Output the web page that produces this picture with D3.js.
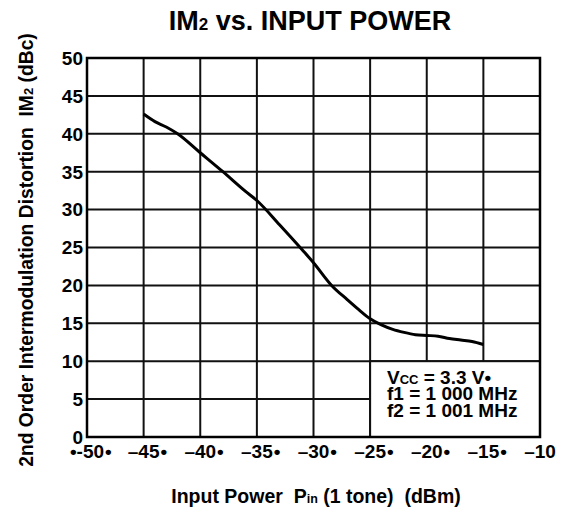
<!DOCTYPE html>
<html>
<head>
<meta charset="utf-8">
<script src="https://cdn.jsdelivr.net/npm/d3@7"></script>
<style>
  html, body { margin: 0; padding: 0; background: #fff; }
  svg text { font-family: "Liberation Sans", Arial, sans-serif; font-weight: bold; fill: #000; white-space: pre; }
</style>
</head>
<body>
<svg id="chart" width="569" height="513"></svg>
<script>
// Input power (dBm) and measured IM2 (dBc)
const inputPower = [-45, -44, -43, -42, -40, -38, -36, -35, -33, -31, -30, -28.4, -27, -26, -25, -24, -23, -22, -21, -20, -19, -18, -17, -16, -15];
const im2 = [42.6, 41.6, 40.9, 40.0, 37.5, 35.0, 32.4, 31.2, 28.0, 24.7, 23.0, 20.0, 18.1, 16.8, 15.6, 14.8, 14.2, 13.8, 13.5, 13.4, 13.3, 13.0, 12.8, 12.6, 12.2];

const xTicks = [-50, -45, -40, -35, -30, -25, -20, -15, -10];
const xTickLabels = ["\u2022-50", "\u201345", "\u201340", "\u201335", "\u201330", "\u201325", "\u201320", "\u201315", "\u201310"];
const xTickMarks = ["\u2022", "\u2022", "\u2022", "\u2022", "\u2022", "\u2022", "\u2022", "\u2022", ""];
const yTicks = [0, 5, 10, 15, 20, 25, 30, 35, 40, 45, 50];
const conditions = [
  { main: "V", sub: "CC", rest: " = 3.3 V\u2022" },
  { main: "f1 = 1 000 MHz", sub: "", rest: "" },
  { main: "f2 = 1 001 MHz", sub: "", rest: "" }
];

const svg = d3.select("#chart");
const plotLeft = 87, plotRight = 540, plotTop = 58, plotBottom = 437;

const x = d3.scaleLinear().domain([-50, -10]).range([plotLeft, plotRight]);
const y = d3.scaleLinear().domain([0, 50]).range([plotBottom, plotTop]);

// grid
const grid = svg.append("g").attr("stroke", "#111").attr("stroke-width", 2);
grid.selectAll("line.v").data(xTicks.slice(1, -1)).join("line")
  .attr("x1", d => x(d)).attr("x2", d => x(d)).attr("y1", plotTop).attr("y2", plotBottom);
grid.selectAll("line.h").data(yTicks.slice(1, -1)).join("line")
  .attr("y1", d => y(d)).attr("y2", d => y(d)).attr("x1", plotLeft).attr("x2", plotRight);

// curve
const line = d3.line().x((d, i) => x(inputPower[i])).y(d => y(d)).curve(d3.curveMonotoneX);
svg.append("path").datum(im2).attr("d", line)
  .attr("fill", "none").attr("stroke", "#000").attr("stroke-width", 3)
  .attr("stroke-linejoin", "round").attr("stroke-linecap", "butt");

// conditions box
svg.append("rect")
  .attr("x", x(-25)).attr("y", y(10))
  .attr("width", x(-10) - x(-25)).attr("height", y(0) - y(10))
  .attr("fill", "#fff").attr("stroke", "#111").attr("stroke-width", 2);

const cond = svg.append("g");
conditions.forEach((c, i) => {
  const t = cond.append("text").attr("x", 387).attr("y", 384 + i * 16.3).attr("font-size", 19);
  t.append("tspan").text(c.main);
  if (c.sub) t.append("tspan").attr("font-size", 13).text(c.sub);
  if (c.rest) t.append("tspan").text(c.rest);
});

// frame
svg.append("rect").attr("x", plotLeft).attr("y", plotTop)
  .attr("width", plotRight - plotLeft).attr("height", plotBottom - plotTop)
  .attr("fill", "none").attr("stroke", "#000").attr("stroke-width", 2.5);

// y tick labels
svg.append("g").selectAll("text").data(yTicks).join("text")
  .attr("x", plotLeft - 4).attr("y", d => y(d)).attr("dy", "0.36em")
  .attr("text-anchor", "end").attr("font-size", 19).text(d => d);

// x tick labels: number centred on its gridline, trailing dot after it
const xLab = svg.append("g");
xTicks.forEach((d, i) => {
  const t = xLab.append("text").attr("x", x(d)).attr("y", 458)
    .attr("text-anchor", "middle").attr("font-size", 19).text(xTickLabels[i]);
  const w = t.node().getComputedTextLength();
  if (xTickMarks[i]) {
    xLab.append("text").attr("x", x(d) + w / 2 + 1).attr("y", 458)
      .attr("font-size", 19).text(xTickMarks[i]);
  }
});

// title
const title = svg.append("text").attr("x", 310).attr("y", 30).attr("text-anchor", "middle").attr("font-size", 27);
title.append("tspan").text("IM");
title.append("tspan").attr("font-size", 17).text("2");
title.append("tspan").text(" vs. INPUT POWER");

// x axis title
const xt = svg.append("text").attr("x", 316).attr("y", 503).attr("text-anchor", "middle").attr("font-size", 19.5);
xt.append("tspan").text("Input Power  P");
xt.append("tspan").attr("font-size", 12.5).text("in");
xt.append("tspan").text(" (1 tone)  (dBm)");

// y axis title
const yt = svg.append("text").attr("transform", "translate(33,250) rotate(-90)")
  .attr("text-anchor", "middle").attr("font-size", 19.3);
yt.append("tspan").text("2nd Order Intermodulation Distortion  IM");
yt.append("tspan").attr("font-size", 13).text("2");
yt.append("tspan").text(" (dBc)");
</script>
</body>
</html>
